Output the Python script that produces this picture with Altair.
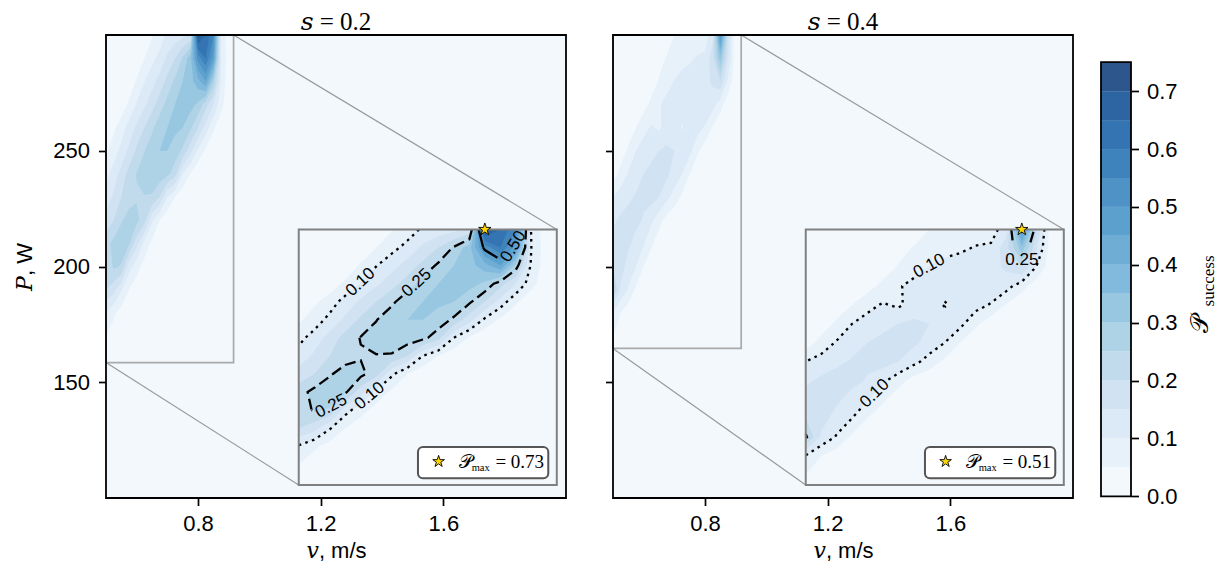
import math
import numpy as np
import pandas as pd
import altair as alt

# ------------------------------------------------------------------ data
V_GRID = [0.500, 0.525, 0.550, 0.575, 0.600, 0.625, 0.650, 0.675, 0.700,
          0.725, 0.750, 0.775, 0.800, 0.825, 0.850, 0.875, 0.900, 0.925]
P_GRID = [150, 160, 170, 180, 190, 200, 210, 220, 230, 240, 250, 260,
          270, 280, 290, 300]

# success probability, rows = P_GRID, columns = V_GRID
SUCCESS_S02 = [
    [0, 0, 0, 0, 0, 0, 0, 0, 0, 0, 0, 0, 0, 0, 0, 0, 0, 0],
    [0.015, 0.005, 0, 0, 0, 0, 0, 0, 0, 0, 0, 0, 0, 0, 0, 0, 0, 0],
    [0.05, 0.025, 0.01, 0, 0, 0, 0, 0, 0, 0, 0, 0, 0, 0, 0, 0, 0, 0],
    [0.095, 0.06, 0.03, 0.01, 0, 0, 0, 0, 0, 0, 0, 0, 0, 0, 0, 0, 0, 0],
    [0.2, 0.17, 0.105, 0.05, 0.02, 0, 0, 0, 0, 0, 0, 0, 0, 0, 0, 0, 0, 0],
    [0.2, 0.26, 0.245, 0.12, 0.07, 0.03, 0.01, 0, 0, 0, 0, 0, 0, 0, 0, 0, 0, 0],
    [0.23, 0.265, 0.28, 0.26, 0.17, 0.085, 0.04, 0.01, 0, 0, 0, 0, 0, 0, 0, 0, 0, 0],
    [0.17, 0.2, 0.245, 0.27, 0.265, 0.22, 0.11, 0.05, 0.015, 0, 0, 0, 0, 0, 0, 0, 0, 0],
    [0.12, 0.16, 0.2, 0.23, 0.245, 0.248, 0.245, 0.2, 0.1, 0.05, 0.015, 0, 0, 0, 0, 0, 0, 0],
    [0.085, 0.12, 0.17, 0.22, 0.253, 0.27, 0.28, 0.28, 0.265, 0.22, 0.1, 0.045, 0.01, 0, 0, 0, 0, 0],
    [0.04, 0.075, 0.115, 0.16, 0.21, 0.248, 0.28, 0.3, 0.3, 0.28, 0.24, 0.17, 0.09, 0.04, 0.01, 0, 0, 0],
    [0.01, 0.04, 0.075, 0.12, 0.16, 0.2, 0.24, 0.28, 0.3, 0.31, 0.3, 0.26, 0.2, 0.13, 0.06, 0.01, 0, 0],
    [0, 0, 0.02, 0.06, 0.105, 0.14, 0.18, 0.225, 0.27, 0.3, 0.31, 0.32, 0.29, 0.22, 0.15, 0.07, 0.01, 0],
    [0, 0, 0, 0.02, 0.055, 0.098, 0.13, 0.17, 0.215, 0.26, 0.3, 0.33, 0.38, 0.45, 0.28, 0.09, 0.02, 0],
    [0, 0, 0, 0, 0.02, 0.05, 0.085, 0.115, 0.16, 0.2, 0.255, 0.33, 0.52, 0.6, 0.475, 0.1, 0.02, 0],
    [0, 0, 0, 0, 0, 0.02, 0.045, 0.075, 0.108, 0.12, 0.135, 0.155, 0.73, 0.65, 0.55, 0.09, 0.02, 0],
]
SUCCESS_S04 = [
    [0, 0, 0, 0, 0, 0, 0, 0, 0, 0, 0, 0, 0, 0, 0, 0, 0, 0],
    [0.015, 0, 0, 0, 0, 0, 0, 0, 0, 0, 0, 0, 0, 0, 0, 0, 0, 0],
    [0.05, 0.02, 0, 0, 0, 0, 0, 0, 0, 0, 0, 0, 0, 0, 0, 0, 0, 0],
    [0.095, 0.05, 0.02, 0, 0, 0, 0, 0, 0, 0, 0, 0, 0, 0, 0, 0, 0, 0],
    [0.26, 0.14, 0.095, 0.04, 0.01, 0, 0, 0, 0, 0, 0, 0, 0, 0, 0, 0, 0, 0],
    [0.2, 0.17, 0.13, 0.1, 0.05, 0.015, 0, 0, 0, 0, 0, 0, 0, 0, 0, 0, 0, 0],
    [0.17, 0.18, 0.16, 0.13, 0.105, 0.06, 0.02, 0, 0, 0, 0, 0, 0, 0, 0, 0, 0, 0],
    [0.14, 0.16, 0.17, 0.165, 0.145, 0.11, 0.07, 0.03, 0.01, 0, 0, 0, 0, 0, 0, 0, 0, 0],
    [0.1, 0.12, 0.14, 0.155, 0.16, 0.17, 0.15, 0.115, 0.08, 0.04, 0.01, 0, 0, 0, 0, 0, 0, 0],
    [0.02, 0.07, 0.105, 0.13, 0.15, 0.16, 0.17, 0.16, 0.13, 0.1, 0.05, 0.015, 0, 0, 0, 0, 0, 0],
    [0, 0.02, 0.06, 0.1, 0.12, 0.14, 0.15, 0.16, 0.15, 0.14, 0.115, 0.06, 0.02, 0, 0, 0, 0, 0],
    [0, 0, 0.02, 0.05, 0.085, 0.105, 0.092, 0.12, 0.14, 0.095, 0.12, 0.12, 0.095, 0.045, 0.01, 0, 0, 0],
    [0, 0, 0, 0, 0.03, 0.065, 0.095, 0.115, 0.13, 0.12, 0.13, 0.14, 0.14, 0.12, 0.07, 0.02, 0, 0],
    [0, 0, 0, 0, 0, 0.02, 0.055, 0.08, 0.102, 0.12, 0.13, 0.12, 0.13, 0.16, 0.2, 0.09, 0.01, 0],
    [0, 0, 0, 0, 0, 0, 0.03, 0.055, 0.07, 0.08, 0.09, 0.105, 0.11, 0.18, 0.33, 0.15, 0.01, 0],
    [0, 0, 0, 0, 0, 0, 0, 0.01, 0.05, 0.06, 0.065, 0.07, 0.075, 0.13, 0.51, 0.185, 0, 0],
]
SUCCESS = [SUCCESS_S02, SUCCESS_S04]
PANEL_TITLES = ["𝑠 = 0.2", "𝑠 = 0.4"]
ZOOM_BOXES = [(0.5, 0.916, 158.5, 300.0), (0.5, 0.918, 164.6, 300.0)]
LEVELS = [0.00, 0.05, 0.10, 0.15, 0.20, 0.25, 0.30, 0.35, 0.40, 0.45,
          0.50, 0.55, 0.60, 0.65, 0.70, 0.75]
LINE_LEVELS = [0.10, 0.25, 0.50]
LABEL_ANCHORS = [
    [(0.10, 0.600, 270.7), (0.25, 0.690, 270.4), (0.50, 0.839, 291.8),
     (0.25, 0.551, 202.7), (0.10, 0.610, 209.4)],
    [(0.10, 0.691, 285.0), (0.25, 0.850, 281.0), (0.10, 0.610, 213.6)],
]
X_TICKS = [0.8, 1.2, 1.6]
Y_TICKS = [150, 200, 250]
CB_TICKS = [0.0, 0.1, 0.2, 0.3, 0.4, 0.5, 0.6, 0.7]

# ------------------------------------------------------------------ layout / style
PANEL_W = [479, 460]
PANEL_H = 463
SX = 460 / 1.5
SY = PANEL_H / 200.0
X_MAX = [0.5 + PANEL_W[0] / SX, 0.5 + PANEL_W[1] / SX]
INSET_FRAC = (0.419, 0.980, 0.028, 0.580)
SANS = "Liberation Sans, DejaVu Serif"
SERIF = "Liberation Serif, DejaVu Serif"
STAR = ("M0,-1L0.2245,-0.309L0.951,-0.309L0.363,0.118L0.588,0.809L0,0.382"
        "L-0.588,0.809L-0.363,0.118L-0.951,-0.309L-0.2245,-0.309Z")

BLUES = [(247, 251, 255), (222, 235, 247), (198, 219, 239), (158, 202, 225),
         (107, 174, 214), (66, 146, 198), (33, 113, 181), (8, 81, 156), (8, 48, 107)]


def blues_hex(t, alpha=0.85):
    t = min(max(t, 0.0), 1.0) * 8
    i = min(int(t), 7)
    f = t - i
    c = [BLUES[i][k] * (1 - f) + BLUES[i + 1][k] * f for k in range(3)]
    c = [alpha * v + (1 - alpha) * 255 for v in c]
    return "#%02x%02x%02x" % tuple(int(round(v)) for v in c)


BAND = [blues_hex(((LEVELS[k] + LEVELS[k + 1]) / 2) / LEVELS[-1]) for k in range(len(LEVELS) - 1)]


# ------------------------------------------------------------------ contour helpers
def iso_loops(Z, L):
    """Closed iso-lines of Z at level L, oriented with the high side on the left."""
    ny, nx = Z.shape
    hi = Z >= L

    def pt(e):
        kind, i, j = e
        if kind == 0:
            z0, z1 = Z[i, j], Z[i, j + 1]
            return (j + (L - z0) / (z1 - z0), float(i))
        z0, z1 = Z[i, j], Z[i + 1, j]
        return (float(j), i + (L - z0) / (z1 - z0))

    nxt = {}
    for i in range(ny - 1):
        for j in range(nx - 1):
            cs = [(i, j), (i, j + 1), (i + 1, j + 1), (i + 1, j)]
            h = [bool(hi[c]) for c in cs]
            if all(h) or not any(h):
                continue
            es = [(0, i, j), (1, i, j + 1), (0, i + 1, j), (1, i, j)]
            cr = [k for k in range(4) if h[k] != h[(k + 1) % 4]]
            if len(cr) == 2:
                pairs = [(cr[0], cr[1])]
            else:
                cen = sum(Z[c] for c in cs) / 4.0 >= L
                pairs = [(0, 1), (2, 3)] if cen == h[0] else [(3, 0), (1, 2)]
            for a, b in pairs:
                if h[(a + 1) % 4]:
                    a, b = b, a
                nxt[es[a]] = es[b]
    loops, used = [], set()
    for s in list(nxt):
        if s in used:
            continue
        loop, cur = [], s
        while cur is not None and cur not in used:
            used.add(cur)
            loop.append(pt(cur))
            cur = nxt.get(cur)
        if len(loop) >= 3:
            loops.append(loop)
    return loops


def signed_area(lp):
    s = 0.0
    for k in range(len(lp)):
        x1, y1 = lp[k]
        x2, y2 = lp[(k + 1) % len(lp)]
        s += x1 * y2 - x2 * y1
    return s / 2


def clip_poly(pts, x0, x1, y0, y1):
    def clip(ps, inside, inter):
        out = []
        for k in range(len(ps)):
            cur, prev = ps[k], ps[k - 1]
            if inside(cur):
                if not inside(prev):
                    out.append(inter(prev, cur))
                out.append(cur)
            elif inside(prev):
                out.append(inter(prev, cur))
        return out

    def ix(xc):
        return lambda a, b: (xc, a[1] + (b[1] - a[1]) * (xc - a[0]) / (b[0] - a[0]))

    def iy(yc):
        return lambda a, b: (a[0] + (b[0] - a[0]) * (yc - a[1]) / (b[1] - a[1]), yc)

    for inside, inter in ((lambda q: q[0] >= x0, ix(x0)), (lambda q: q[0] <= x1, ix(x1)),
                          (lambda q: q[1] >= y0, iy(y0)), (lambda q: q[1] <= y1, iy(y1))):
        if not pts:
            break
        pts = clip(pts, inside, inter)
    return pts


def clip_seg(a, b, x0, x1, y0, y1):
    t0, t1 = 0.0, 1.0
    dx, dy = b[0] - a[0], b[1] - a[1]
    for pp, qq in ((-dx, a[0] - x0), (dx, x1 - a[0]), (-dy, a[1] - y0), (dy, y1 - a[1])):
        if pp == 0:
            if qq < 0:
                return None
        else:
            r = qq / pp
            if pp < 0:
                t0 = max(t0, r)
            else:
                t1 = min(t1, r)
    if t0 >= t1:
        return None
    return ((a[0] + t0 * dx, a[1] + t0 * dy), (a[0] + t1 * dx, a[1] + t1 * dy))


def cut_circle(a, b, c, r):
    dx, dy = b[0] - a[0], b[1] - a[1]
    fx, fy = a[0] - c[0], a[1] - c[1]
    A = dx * dx + dy * dy
    if A == 0:
        return [(a, b)] if math.dist(a, c) >= r else []
    B = 2 * (fx * dx + fy * dy)
    C = fx * fx + fy * fy - r * r
    disc = B * B - 4 * A * C
    if disc <= 0:
        return [(a, b)]
    s = math.sqrt(disc)
    t1, t2 = (-B - s) / (2 * A), (-B + s) / (2 * A)
    if t2 <= 0 or t1 >= 1:
        return [(a, b)]
    out = []
    if t1 > 0:
        out.append((a, (a[0] + t1 * dx, a[1] + t1 * dy)))
    if t2 < 1:
        out.append(((a[0] + t2 * dx, a[1] + t2 * dy), b))
    return out


def nearest_on_seg(p, a, b):
    dx, dy = b[0] - a[0], b[1] - a[1]
    den = dx * dx + dy * dy
    t = 0.0 if den == 0 else max(0.0, min(1.0, ((p[0] - a[0]) * dx + (p[1] - a[1]) * dy) / den))
    return (a[0] + t * dx, a[1] + t * dy)


def to_px(x, y):
    return ((x - 0.5) * SX, (300.0 - y) * SY)


def from_px(a, b):
    return (a / SX + 0.5, 300.0 - b / SY)


# ------------------------------------------------------------------ panels
def panel(p):
    zx0, zx1, zy0, zy1 = ZOOM_BOXES[p]
    fx0, fx1, fy0, fy1 = INSET_FRAC
    ix0, ix1 = 0.5 + fx0 * 1.5, 0.5 + fx1 * 1.5
    iy0, iy1 = 100 + fy0 * 200, 100 + fy1 * 200

    def to_main(x, y):
        return (ix0 + (x - zx0) / (zx1 - zx0) * (ix1 - ix0),
                iy0 + (y - zy0) / (zy1 - zy0) * (iy1 - iy0))

    def frac(fx, fy):
        return (ix0 + fx * (ix1 - ix0), iy0 + fy * (iy1 - iy0))

    grid = np.array(SUCCESS[p], dtype=float)
    Zp = np.zeros((grid.shape[0] + 2, grid.shape[1] + 2))
    Zp[1:-1, 1:-1] = grid
    dv = V_GRID[1] - V_GRID[0]
    dp = P_GRID[1] - P_GRID[0]
    xs0, ys0 = V_GRID[0] - dv, P_GRID[0] - dp

    def idx2d(q):
        return (xs0 + q[0] * dv, ys0 + q[1] * dp)

    # filled contours
    poly_main, poly_inset = [], []
    gid = 0
    for k in range(1, len(LEVELS) - 1):
        loops = iso_loops(Zp, LEVELS[k])
        outer = [lp for lp in loops if signed_area(lp) > 0]
        holes = [lp for lp in loops if signed_area(lp) <= 0]
        for group, col in ((outer, BAND[k]), (holes, BAND[k - 1])):
            for lp in group:
                pts = [idx2d(q) for q in lp]
                gid += 1
                key = "g%05d" % gid
                for o, (x, y) in enumerate(pts):
                    poly_main.append({"g": key, "o": o, "x": x, "y": y, "c": col})
                cp = clip_poly(pts, zx0, zx1, zy0, zy1)
                if len(cp) >= 3:
                    for o, (x, y) in enumerate(cp):
                        X_, Y_ = to_main(x, y)
                        poly_inset.append({"g": key, "o": o, "x": X_, "y": Y_, "c": col})

    # contour lines + labels in the inset
    rx0, ry0 = to_px(ix0, iy1)
    rx1, ry1 = to_px(ix1, iy0)
    R = 19.5
    line_rows = {L: [] for L in LINE_LEVELS}
    label_rows = []
    rid = 0
    for L in LINE_LEVELS:
        loops_px = []
        for lp in iso_loops(Zp, L):
            pts = [to_px(*to_main(*idx2d(q))) for q in lp]
            pts.append(pts[0])
            loops_px.append(pts)
        centers = []
        for lv, ax, ay in LABEL_ANCHORS[p]:
            if abs(lv - L) > 1e-9:
                continue
            apx = to_px(*to_main(ax, ay))
            best = None
            for li, pts in enumerate(loops_px):
                for vi in range(len(pts) - 1):
                    q = nearest_on_seg(apx, pts[vi], pts[vi + 1])
                    if not (rx0 + R <= q[0] <= rx1 - R and ry0 + 8 <= q[1] <= ry1 - 8):
                        continue
                    d = math.dist(q, apx)
                    if best is None or d < best[0]:
                        best = (d, li, vi, q)
            if best is None:
                continue
            _, li, vi, c = best
            pts = loops_px[li]
            n = len(pts) - 1
            vb, cnt = vi, 0
            while math.dist(pts[vb % n], c) < R and cnt < n:
                vb -= 1
                cnt += 1
            vf, cnt = vi + 1, 0
            while math.dist(pts[vf % n], c) < R and cnt < n:
                vf += 1
                cnt += 1
            pa, pb = pts[vb % n], pts[vf % n]
            ang = math.degrees(math.atan2(pb[1] - pa[1], pb[0] - pa[0]))
            if ang > 90:
                ang -= 180
            if ang <= -90:
                ang += 180
            centers.append(c)
            cx, cy = from_px(*c)
            label_rows.append({"x": cx, "y": cy, "a": ang % 360, "t": "%.2f" % L})
        segs = []
        for pts in loops_px:
            for a, b in zip(pts[:-1], pts[1:]):
                pieces = [(a, b)]
                for c in centers:
                    pieces = [s for (u, w) in pieces for s in cut_circle(u, w, c, R)]
                for u, w in pieces:
                    cl = clip_seg(u, w, rx0, rx1, ry0, ry1)
                    if cl:
                        segs.append(cl)
        runs = []
        for u, w in segs:
            if runs and math.dist(runs[-1][-1], u) < 1e-7:
                runs[-1].append(w)
            else:
                runs.append([u, w])
        for run in runs:
            rid += 1
            for o, q in enumerate(run):
                x, y = from_px(*q)
                line_rows[L].append({"g": "r%05d" % rid, "o": o, "x": x, "y": y})

    # maximum
    im, jm = np.unravel_index(np.argmax(grid), grid.shape)
    pmax = float(grid[im, jm])
    sx_, sy_ = to_main(V_GRID[jm], P_GRID[im])

    # ---------------- encodings
    xsc = alt.Scale(domain=[0.5, X_MAX[p]], nice=False, zero=False)
    ysc = alt.Scale(domain=[100, 300], nice=False, zero=False)
    xax = alt.Axis(values=X_TICKS, format=".1f", title="𝑣, m/s", grid=False, domain=False,
                   tickSize=7.5, tickWidth=1.7, tickColor="black", labelFont=SANS,
                   labelFontSize=22, labelColor="black", labelPadding=8, titleFont=SANS,
                   titleFontSize=22, titleFontWeight="normal", titleColor="black",
                   titlePadding=6, titleX=230, labelFlush=False)
    if p == 0:
        yax = alt.Axis(values=Y_TICKS, format="d", title="𝑃, W", grid=False, domain=False,
                       tickSize=7.5, tickWidth=1.7, tickColor="black", labelFont=SANS,
                       labelFontSize=22, labelColor="black", labelPadding=9, titleFont=SANS,
                       titleFontSize=22, titleFontWeight="normal", titleColor="black",
                       titlePadding=16.5, labelFlush=False)
    else:
        yax = alt.Axis(values=Y_TICKS, labels=False, title="", grid=False, domain=False,
                       tickSize=7.5, tickWidth=1.7, tickColor="black")

    def ex(f):
        return alt.X(f, type="quantitative", scale=xsc, axis=xax)

    def ey(f):
        return alt.Y(f, type="quantitative", scale=ysc, axis=yax)

    def box(x0, x1, y0, y1):
        return pd.DataFrame([{"x0": x0, "x1": x1, "y0": y0, "y1": y1}])

    layers = []
    layers.append(alt.Chart(box(0.5, 2.0, 100.0, 300.0)).mark_rect(color=BAND[0]).encode(
        x=ex("x0"), x2="x1", y=ey("y0"), y2="y1"))
    layers.append(alt.Chart(pd.DataFrame(poly_main)).mark_line(filled=True, clip=True, strokeWidth=0).encode(
        x=ex("x"), y=ey("y"), detail="g:N", order="o:Q", color=alt.Color("c:N", scale=None)))
    layers.append(alt.Chart(box(zx0, zx1, zy0, zy1)).mark_rect(filled=False, stroke="#aaaaaa", strokeWidth=1.7).encode(
        x=ex("x0"), x2="x1", y=ey("y0"), y2="y1"))
    conn = pd.DataFrame([{"x": zx1, "y": zy1, "x2": ix1, "y2": iy1},
                         {"x": zx0, "y": zy0, "x2": ix0, "y2": iy0}])
    layers.append(alt.Chart(conn).mark_rule(color="#999999", strokeWidth=1.2).encode(
        x=ex("x"), y=ey("y"), x2="x2", y2="y2"))
    layers.append(alt.Chart(box(ix0, ix1, iy0, iy1)).mark_rect(color=BAND[0]).encode(
        x=ex("x0"), x2="x1", y=ey("y0"), y2="y1"))
    layers.append(alt.Chart(pd.DataFrame(poly_inset)).mark_line(filled=True, strokeWidth=0).encode(
        x=ex("x"), y=ey("y"), detail="g:N", order="o:Q", color=alt.Color("c:N", scale=None)))
    for L, dash in ((0.10, [2.6, 4.4]), (0.25, [11, 5]), (0.50, None)):
        if not line_rows[L]:
            continue
        mk = dict(color="black", strokeWidth=2.3)
        if dash:
            mk["strokeDash"] = dash
        layers.append(alt.Chart(pd.DataFrame(line_rows[L])).mark_line(**mk).encode(
            x=ex("x"), y=ey("y"), detail="g:N", order="o:Q"))
    if label_rows:
        layers.append(alt.Chart(pd.DataFrame(label_rows)).mark_text(
            font=SANS, fontSize=17, color="black", align="center", baseline="middle").encode(
            x=ex("x"), y=ey("y"), text="t:N", angle=alt.Angle("a:Q", scale=None)))
    layers.append(alt.Chart(box(ix0, ix1, iy0, iy1)).mark_rect(filled=False, stroke="#808080", strokeWidth=2).encode(
        x=ex("x0"), x2="x1", y=ey("y0"), y2="y1"))
    layers.append(alt.Chart(pd.DataFrame([{"x": sx_, "y": sy_}])).mark_point(
        shape=STAR, filled=True, fill="gold", stroke="black", strokeWidth=0.9, size=170, opacity=1).encode(
        x=ex("x"), y=ey("y")))
    # legend box
    lx0, ly0 = frac(0.462, 0.027)
    lx1, ly1 = frac(0.967, 0.149)
    layers.append(alt.Chart(box(lx0, lx1, ly0, ly1)).mark_rect(
        fill="white", stroke="#555555", strokeWidth=2, cornerRadius=5).encode(
        x=ex("x0"), x2="x1", y=ey("y0"), y2="y1"))
    stx, sty = frac(0.542, 0.092)
    layers.append(alt.Chart(pd.DataFrame([{"x": stx, "y": sty}])).mark_point(
        shape=STAR, filled=True, fill="gold", stroke="black", strokeWidth=0.9, size=150, opacity=1).encode(
        x=ex("x"), y=ey("y")))
    leg_txt = []
    for fx, fy, t, fs in ((0.622, 0.092, "𝒫", 19), (0.670, 0.066, "max", 10.5),
                          (0.762, 0.092, "= %.2f" % pmax, 19)):
        x_, y_ = frac(fx, fy)
        leg_txt.append({"x": x_, "y": y_, "t": t, "s": fs})
    layers.append(alt.Chart(pd.DataFrame(leg_txt)).mark_text(
        font=SERIF, color="black", align="left", baseline="middle").encode(
        x=ex("x"), y=ey("y"), text="t:N", size=alt.Size("s:Q", scale=None)))
    # frame
    layers.append(alt.Chart(box(0.5, 2.0, 100.0, 300.0)).mark_rect(filled=False, stroke="black", strokeWidth=1.8).encode(
        x=ex("x0"), x2="x1", y=ey("y0"), y2="y1"))

    title = alt.TitleParams(text=PANEL_TITLES[p], font=SERIF, fontSize=25, fontWeight="normal",
                            color="black", offset=-1, anchor="middle",
                            dx=-(PANEL_W[p] - 460) / 2.0)
    return alt.layer(*layers).properties(width=PANEL_W[p], height=PANEL_H, title=title)


# ------------------------------------------------------------------ colorbar
cb_df = pd.DataFrame({"lo": LEVELS[:-1], "hi": LEVELS[1:], "c": BAND,
                      "x0": [0.0] * len(BAND), "x1": [1.0] * len(BAND)})
cb_x = alt.Scale(domain=[0, 1], nice=False, zero=False)
cb_y = alt.Scale(domain=[-0.0028, 0.797], nice=False, zero=False)
cb_axis = alt.Axis(values=CB_TICKS, format=".1f", orient="right", title="", grid=False, domain=False,
                   tickSize=7.5, tickWidth=1.7, tickColor="black", labelFont=SANS,
                   labelFontSize=22, labelColor="black", labelPadding=8, labelFlush=False)
cb_bands = alt.Chart(cb_df).mark_rect().encode(
    x=alt.X("x0", type="quantitative", scale=cb_x, axis=None), x2="x1",
    y=alt.Y("lo", type="quantitative", scale=cb_y, axis=cb_axis), y2="hi",
    color=alt.Color("c:N", scale=None))
cb_frame = alt.Chart(pd.DataFrame([{"x0": 0.0, "x1": 1.0, "lo": LEVELS[0], "hi": LEVELS[-1]}])).mark_rect(
    filled=False, stroke="black", strokeWidth=1.8).encode(
    x=alt.X("x0", type="quantitative", scale=cb_x, axis=None), x2="x1",
    y=alt.Y("lo", type="quantitative", scale=cb_y, axis=cb_axis), y2="hi")
cb_t1 = alt.Chart(pd.DataFrame([{"t": "𝒫"}])).mark_text(
    font=SERIF, fontSize=25, color="black", angle=270, align="center", baseline="middle").encode(
    x=alt.value(99), y=alt.value(289), text="t:N")
cb_t2 = alt.Chart(pd.DataFrame([{"t": "success"}])).mark_text(
    font=SERIF, fontSize=17, color="black", angle=270, align="center", baseline="middle").encode(
    x=alt.value(108), y=alt.value(246), text="t:N")
cbar = alt.layer(cb_bands, cb_frame, cb_t1, cb_t2).properties(width=30, height=PANEL_H)

chart = alt.hconcat(panel(0), panel(1), cbar, spacing=28, bounds="flush").configure_view(
    strokeWidth=0).properties(padding={"left": 5, "top": 2, "right": 0, "bottom": 0})

chart.save("out.html", embed_options={"renderer": "svg", "actions": False})
